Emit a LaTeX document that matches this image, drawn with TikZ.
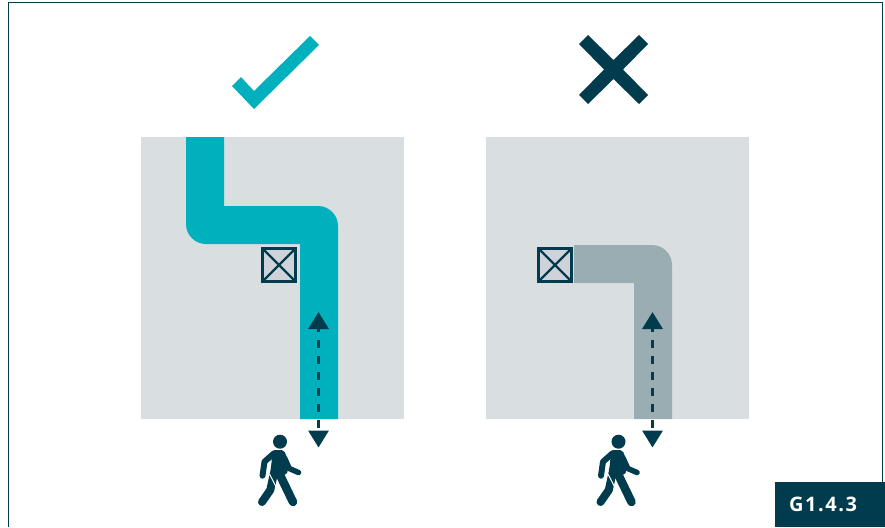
\documentclass[tikz,border=0pt]{standalone}
\usepackage{fontspec}
\setsansfont{Open Sans}
\usepackage{xcolor}
\usetikzlibrary{arrows.meta}
\definecolor{inkdark}{HTML}{003C4D}
\definecolor{ductteal}{HTML}{00B0BD}
\definecolor{ductgrey}{HTML}{9AADB3}
\definecolor{panelgrey}{HTML}{D9DFE1}
\definecolor{boxgrey}{HTML}{CFD3D9}
\tikzset{
  walker/.pic={
    \fill[inkdark] (0,-14.3) circle (7);
    \draw[limb, line width=8pt] (-6,17) -- (-9.7,34) -- (-18,46);
    \draw[white, line width=1pt] (-10.5,18) -- (-3.8,31);
    \draw[limb, line width=8.5pt] (-1,17) -- (13,46);
    \fill[inkdark, rounded corners=2pt] (-7.5,-5.8) -- (4,-5.8) -- (9.5,8) -- (6.5,19) -- (-10,17.5) -- (-8.5,7.3) -- cycle;
    \draw[limb, line width=6pt] (-6,-2.7) -- (-15.5,5.7) -- (-17.5,19.7);
    \draw[limb, line width=5.5pt] (4.5,2) -- (9.3,12.5) -- (18.5,16.5);
  },
}
\begin{document}
\begin{tikzpicture}[
    x=1pt, y=-1pt,
    limb/.style={inkdark, line cap=round, line join=round},
    panel/.style={fill=panelgrey, minimum width=263pt, minimum height=282pt, inner sep=0pt},
    damper/.style={draw=inkdark, fill=boxgrey, line width=2.6pt, minimum size=33pt, inner sep=0pt,
      path picture={\draw[inkdark, line width=2.4pt] (path picture bounding box.north west) -- (path picture bounding box.south east)
        (path picture bounding box.north east) -- (path picture bounding box.south west);}},
    reach/.style={draw=inkdark, line width=3.3pt, dash pattern=on 8pt off 8pt, dash phase=4pt, {Triangle[width=20pt, length=17pt]}-{Triangle[width=20pt, length=17pt]}},
    tag/.style={fill=inkdark, text=white, font=\sffamily\bfseries\fontsize{20}{22}\selectfont\addfontfeature{LetterSpace=8}, text width=82pt, inner xsep=14pt, align=left, minimum height=45pt, inner ysep=0pt}]
  \useasboundingbox (0,0) rectangle (885,527);
  \fill[white] (0,0) rectangle (885,527);
  \draw[inkdark, line width=1.5pt] (8.5,527) -- (8.5,2.5) -- (882.5,2.5) -- (882.5,482);
  % good side
  \node[panel] (goodpanel) at (272.5,278) {};
  \fill[ductteal] (186,137) -- (224,137) -- (224,206) -- (318,206) arc[start angle=-90, end angle=0, radius=20] -- (338,419) -- (300,419) -- (300,244) -- (206,244) arc[start angle=90, end angle=180, radius=20] -- cycle;
  \node[damper] (gooddamper) at (279,265) {};
  \coordinate (goodtop) at (318.5,312);
  \coordinate (goodend) at (318.5,447.5);
  \draw[reach] (goodtop) -- (goodend);
  \fill[ductteal] (232,86) -- (241,77) -- (254,91) -- (310,36) -- (319,45) -- (254,109) -- cycle;
  \pic at (280,456) {walker};
  % bad side
  \node[panel] (badpanel) at (617.5,278) {};
  \fill[ductgrey] (574,245) -- (652,245) arc[start angle=-90, end angle=0, radius=20] -- (672,419) -- (634,419) -- (634,283) -- (574,283) -- cycle;
  \node[damper] (baddamper) at (555,265) {};
  \coordinate (badtop) at (652.5,312);
  \coordinate (badend) at (652.5,447.5);
  \draw[reach] (badtop) -- (badend);
  \fill[inkdark] (579,44) -- (588,35) -- (613.5,60) -- (639,35) -- (648,44) -- (623,69.5) -- (648,95) -- (639,104) -- (613.5,79) -- (588,104) -- (579,95) -- (604,69.5) -- cycle;
  \pic at (618.5,456) {walker};
  \node[tag] (figtag) at (830,504.5) {G1.4.3};
\end{tikzpicture}
\end{document}
